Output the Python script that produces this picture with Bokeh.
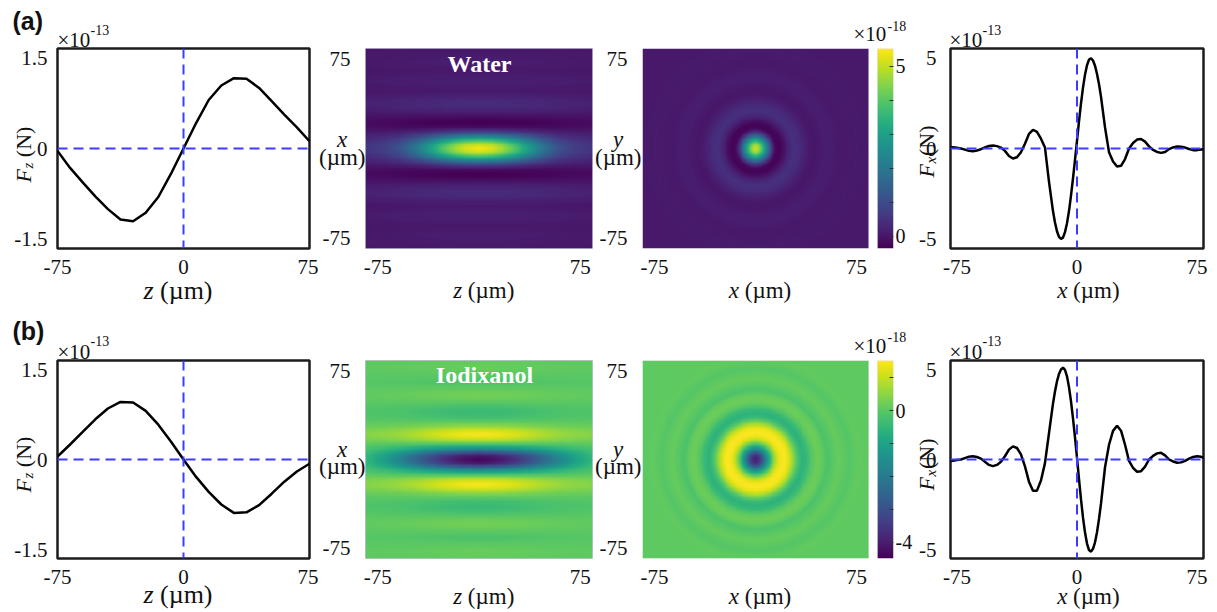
import numpy as np
from bokeh.plotting import figure
from bokeh.models import (Range1d, FixedTicker, LinearColorMapper, Label, Span,
                          LinearAxis, BoxAnnotation)
from bokeh.layouts import row, column
from bokeh.embed import file_html
from bokeh.resources import INLINE
from bokeh.palettes import Viridis256

# ======================= DATA =======================
z_line = [-75, -67.5, -60, -52.5, -45, -37.5, -30, -22.5, -15, -7.5, 0,
          7.5, 15, 22.5, 30, 37.5, 45, 52.5, 60, 67.5, 75]
fz_water = [-0.04, -0.32, -0.56, -0.79, -1.0, -1.17, -1.2, -1.06, -0.8, -0.42, 0.0,
            0.42, 0.8, 1.04, 1.16, 1.15, 1.0, 0.78, 0.56, 0.35, 0.12]
fz_iodixanol = [0.05, 0.25, 0.46, 0.67, 0.85, 0.96, 0.95, 0.81, 0.58, 0.3, 0.0,
                -0.29, -0.54, -0.75, -0.89, -0.88, -0.76, -0.57, -0.37, -0.2, -0.07]

x_line = [-80, -77.5, -75, -72.5, -70, -67.5, -65, -62.5, -60, -57.5, -55, -52.5, -50,
          -47.5, -45, -42.5, -40, -37.5, -35, -32.5, -30, -27.5, -25, -22.5, -20, -17.5, -15,
          -13.75, -12.5, -11.25, -10, -8.75, -7.5, -6.25, -5, -3.75, -2.5, -1.25, 0,
          1.25, 2.5, 3.75, 5, 6.25, 7.5, 8.75, 10, 11.25, 12.5, 13.75,
          15, 17.5, 20, 22.5, 25, 27.5, 30, 32.5, 35, 37.5, 40, 42.5, 45, 47.5, 50,
          52.5, 55, 57.5, 60, 62.5, 65, 67.5, 70, 72.5, 75, 77.5, 80]
fx_water = [0.07, 0.07, 0.04, 0.0, -0.06, -0.13, -0.15, -0.11, -0.04, 0.06, 0.14, 0.16, 0.13,
            0.05, -0.13, -0.41, -0.55, -0.48, -0.21, 0.26, 0.8, 1.03, 0.91, 0.54, 0.05, -1.82, -3.44,
            -4.07, -4.55, -4.86, -4.97, -4.9, -4.6, -4.11, -3.44, -2.59, -1.65, -0.63, 0.42,
            1.49, 2.48, 3.35, 4.06, 4.58, 4.89, 4.96, 4.84, 4.55, 4.1, 3.53,
            2.84, 1.16, -0.21, -0.71, -0.99, -0.95, -0.58, 0.0, 0.3, 0.49, 0.52, 0.38, 0.12, -0.08, -0.19,
            -0.24, -0.19, -0.03, 0.06, 0.11, 0.1, 0.05, -0.03, -0.09, -0.09, -0.05, -0.03]
fx_iodixanol = [-0.09, -0.07, -0.03, 0.0, 0.08, 0.16, 0.18, 0.14, 0.05, -0.13, -0.3, -0.37, -0.3,
                -0.13, 0.18, 0.55, 0.73, 0.64, 0.28, -0.38, -1.23, -1.73, -1.73, -1.17, -0.2, 1.46, 3.1,
                3.78, 4.34, 4.75, 5.0, 5.1, 4.98, 4.62, 4.02, 3.23, 2.28, 1.23, 0.09,
                -1.09, -2.22, -3.23, -4.06, -4.67, -5.03, -5.12, -4.96, -4.6, -4.04, -3.3,
                -2.44, -0.43, 0.82, 1.59, 1.88, 1.6, 0.82, -0.08, -0.46, -0.68, -0.65, -0.4, 0.0, 0.2, 0.34,
                0.37, 0.23, 0.0, -0.11, -0.18, -0.16, -0.08, 0.05, 0.14, 0.18, 0.15, 0.06]

wxz_x = [0, 3, 6, 9, 12, 15, 18, 21, 24, 28, 32, 36, 40, 44, 48, 52, 56, 60, 66, 72, 84]
wxz_core = [5.5, 5.1, 4.1, 2.8, 1.5, 0.6, 0.15, 0, 0, 0, 0, 0, 0, 0, 0, 0, 0, 0, 0, 0, 0]
wxz_ring = [0, 0, 0, 0, 0, -0.15, -0.3, -0.35, -0.3, -0.05, 0.22, 0.36, 0.34, 0.17, 0.05,
            0.08, 0.15, 0.12, 0.03, 0.1, 0.05]
wxz_z = [0, 10, 20, 30, 40, 50, 60, 70, 84]
wxz_core_env = [1.0, 0.96, 0.84, 0.67, 0.48, 0.32, 0.2, 0.14, 0.1]
wxz_ring_env = [1.0, 0.99, 0.97, 0.93, 0.88, 0.8, 0.7, 0.6, 0.5]

ixz_x = [0, 3, 6, 9, 12, 15, 18, 21, 24, 28, 32, 36, 40, 44, 48, 52, 56, 60, 66, 72, 78, 84]
ixz_core = [-4.45, -4.1, -3.0, -1.6, -0.6, -0.1, 0, 0, 0, 0, 0, 0, 0, 0, 0, 0, 0, 0, 0, 0, 0, 0]
ixz_ring = [0, 0, 0, 0, 0.1, 0.5, 1.2, 1.45, 1.3, 0.6, 0.05, -0.3, -0.42, -0.3, -0.05,
            0.2, 0.25, 0.08, -0.18, 0.0, 0.15, 0.08]
ixz_z = [0, 10, 20, 30, 40, 50, 60, 70, 84]
ixz_core_env = [1.0, 0.97, 0.9, 0.8, 0.67, 0.53, 0.39, 0.26, 0.12]
ixz_ring_env = [1.0, 0.97, 0.9, 0.79, 0.66, 0.53, 0.43, 0.36, 0.3]

wxy_r = [0, 3, 6, 9, 12, 15, 18, 21, 24, 28, 32, 36, 40, 44, 48, 55, 60, 64, 70, 75, 84, 130]
wxy_v = [5.2, 4.6, 3.3, 1.9, 0.6, -0.25, -0.3, -0.1, 0.2, 0.45, 0.4, 0.22, 0.06, 0.0, 0.06,
         0.12, 0.07, 0.03, 0.06, 0.08, 0.05, 0.05]
ixy_r = [0, 2, 4, 6, 8, 10, 12, 14, 16, 18, 21, 24, 27, 30, 33, 35, 38, 42, 46, 50, 53, 57,
         62, 66, 70, 76, 84, 130]
ixy_v = [-4.0, -3.8, -3.3, -2.5, -1.6, -0.8, -0.1, 0.55, 1.1, 1.4, 1.5, 1.35, 0.8, 0.05, -0.45,
         -0.6, -0.45, 0.0, 0.2, 0.07, -0.15, -0.03, 0.12, 0.03, -0.06, 0.07, 0.03, 0.03]

cb_water = [-0.36, 5.53]
cb_water_major = [0, 5]
cb_water_minor = [1, 2, 3, 4]
cb_iodix = [-4.49, 1.53]
cb_iodix_major = [-4, 0]
cb_iodix_minor = [-3, -2, -1, 1]

fz_ticks = [-1.5, 0, 1.5]
fx_ticks = [-5, 0, 5]
pos_ticks = [-75, 0, 75]
map_ticks = [-75, 75]
fz_range = [-1.65, 1.65]
fx_range = [-5.5, 5.5]
z_range = [-75, 75]
xfx_range = [-79, 79]
map_range = [-84, 84]

# ======================= STYLE / LAYOUT =======================
SERIF = "Liberation Serif"
SANS = "Liberation Sans"
BLUE = "#3c3cff"
INK = "#111111"
MAP_EDGE = "#c4c4d4"
TICK_PX = "21px"
PAGE_W, PAGE_H = 1217, 612

ROW_Y0 = [0, 312]
ROW_H = [312, 300]
LINE_TOP = [48, 48]
LINE_H = [200, 198]
MAP_TOP = [45, 45]
MAP_H = 204
MAP_W = 227
CB_GAP = 9
CB_W = 16
MAP_ASPECT = MAP_H / MAP_W
COL_X0 = {1: 0, 2: 318, 3: 596, 4: 915}
COL = {1: dict(width=318, left=57, right=9),
       2: dict(width=278, left=47, right=4),
       3: dict(width=319, left=45, right=22),
       4: dict(width=302, left=35, right=14)}

# text overlay: one transparent figure laid over the whole page (page-pixel coordinates)
overlay = figure(width=PAGE_W, height=PAGE_H, x_range=Range1d(0, PAGE_W),
                 y_range=Range1d(PAGE_H, 0), output_backend="svg", toolbar_location=None,
                 x_axis_location=None, y_axis_location=None,
                 min_border=0, min_border_left=0, min_border_right=0,
                 min_border_top=0, min_border_bottom=0)
overlay.xgrid.visible = False
overlay.ygrid.visible = False
overlay.outline_line_color = None
overlay.background_fill_color = None
overlay.border_fill_color = None
overlay.margin = (-PAGE_H, 0, 0, 0)


class Geo:
    """Frame origin of a panel on the page."""
    def __init__(self, col, r, top):
        self.x0 = COL_X0[col] + COL[col]["left"]
        self.y0 = ROW_Y0[r] + top


def put(g, dx, dy, text, size, style="normal", align="left", baseline="middle",
        angle=0.0, font=SERIF, color=INK):
    # dx, dy: pixels from the panel frame's top-left corner
    overlay.add_layout(Label(x=g.x0 + dx, y=g.y0 + dy, text=text, text_font=font,
                             text_font_size=f"{size}px", text_font_style=style,
                             text_align=align, text_baseline=baseline, angle=angle,
                             text_color=color))


def make_fig(col, r, top, fh, xr, yr):
    c = COL[col]
    h = ROW_H[r]
    p = figure(width=c["width"], height=h, x_range=Range1d(*xr), y_range=Range1d(*yr),
               output_backend="svg", toolbar_location=None,
               min_border_left=c["left"], min_border_right=c["right"],
               min_border_top=top, min_border_bottom=h - top - fh)
    p.xgrid.visible = False
    p.ygrid.visible = False
    p.background_fill_color = "white"
    p.border_fill_color = "white"
    for ax in (p.xaxis[0], p.yaxis[0]):
        ax.axis_line_color = None
        ax.major_tick_line_color = None
        ax.minor_tick_line_color = None
        ax.major_label_text_font = SERIF
        ax.major_label_text_font_size = TICK_PX
        ax.major_label_text_color = INK
    p.xaxis[0].major_label_standoff = 5
    return p, Geo(col, r, top)


def set_ticks(ax, vals):
    ax.ticker = FixedTicker(ticks=vals)
    ax.major_label_overrides = {v: f"{v:g}" for v in vals}


def line_common(p, xs, ys):
    p.outline_line_color = "#1c1c1c"
    p.outline_line_width = 2.5
    p.line(xs, ys, line_color="black", line_width=2.5)
    for dim in ("width", "height"):
        p.add_layout(Span(location=0, dimension=dim, line_color=BLUE, line_width=2,
                          line_dash="10 6"))


def fz_panel(r, ys, tag):
    p, g = make_fig(1, r, LINE_TOP[r], LINE_H[r], z_range, fz_range)
    set_ticks(p.xaxis[0], pos_ticks)
    set_ticks(p.yaxis[0], fz_ticks)
    p.yaxis[0].major_label_standoff = 4
    line_common(p, z_line, ys)
    put(g, -45, [-28, -30][r], tag, 25, style="bold", font=SANS)
    put(g, 0, -9, "\u00d710", 21)
    put(g, 33, [-19, -20][r], "-13", 14)
    d = [0, -2][r]
    put(g, -34, 134 + d, "F", 22, style="italic", baseline="alphabetic", angle=np.pi / 2)
    put(g, -30, 120 + d, "z", 15, style="italic", baseline="alphabetic", angle=np.pi / 2)
    put(g, -34, 108.7 + d, "(N)", 22, baseline="alphabetic", angle=np.pi / 2)
    yl = [242, 234][r]
    put(g, 86, yl, "z", 26, style="italic")
    put(g, 102.5, yl, "(\u00b5m)", 26)
    return p


def fx_panel(r, ys):
    p, g = make_fig(4, r, LINE_TOP[r], LINE_H[r], xfx_range, fx_range)
    set_ticks(p.xaxis[0], pos_ticks)
    set_ticks(p.yaxis[0], fx_ticks)
    p.yaxis[0].major_label_standoff = 8
    line_common(p, x_line, ys)
    put(g, -1, -9, "\u00d710", 21)
    put(g, 32, [-19, -20][r], "-13", 14)
    d = [0, 1][r]
    put(g, -24, 129 + d, "F", 22, style="italic", baseline="alphabetic", angle=np.pi / 2)
    put(g, -20, 115 + d, "x", 15, style="italic", baseline="alphabetic", angle=np.pi / 2)
    put(g, -24, 107.5 + d, "(N)", 22, baseline="alphabetic", angle=np.pi / 2)
    yl = [242, 236][r]
    put(g, 106.7, yl, "x", 23, style="italic")
    put(g, 122.6, yl, "(\u00b5m)", 23)
    return p


def xz_image(xt, core, ring, zt, core_env, ring_env, n=241):
    c = np.linspace(map_range[0], map_range[1], n)
    Z, X = np.meshgrid(c, c)
    ax_, az = np.abs(X), np.abs(Z)
    return (np.interp(ax_, xt, core) * np.interp(az, zt, core_env) +
            np.interp(ax_, xt, ring) * np.interp(az, zt, ring_env))


def xy_image(rr, vv, n=241):
    c = np.linspace(map_range[0], map_range[1], n)
    X, Y = np.meshgrid(c, c)
    return np.interp(np.hypot(X, Y * MAP_ASPECT), rr, vv)


def map_labels(g, r, ylab, xlab, xdx):
    yy = [(93.7, 111.7), (91.7, 109.4)][r]
    put(g, -23.3, yy[0], ylab, 23, style="italic", align="center")
    put(g, -23.3, yy[1], "(\u00b5m)", 23, align="center")
    yl = [245, 239][r]
    put(g, xdx, yl, xlab, 23, style="italic")
    put(g, xdx + (10.2 if xlab == "x" else 8.9) + 5.75, yl, "(\u00b5m)", 23)


def map_axes(p):
    set_ticks(p.xaxis[0], map_ticks)
    set_ticks(p.yaxis[0], map_ticks)
    p.yaxis[0].major_label_standoff = 9


def xz_panel(r, img, cb, title, tdx, tdy):
    p, g = make_fig(2, r, MAP_TOP[r], MAP_H, map_range, map_range)
    map_axes(p)
    span = map_range[1] - map_range[0]
    mapper = LinearColorMapper(palette=Viridis256, low=cb[0], high=cb[1])
    p.image(image=[img], x=map_range[0], y=map_range[0], dw=span, dh=span, color_mapper=mapper)
    p.outline_line_color = MAP_EDGE
    p.outline_line_width = 1
    put(g, tdx, tdy, title, 24, style="bold", align="center", color="white")
    map_labels(g, r, "x", "z", 87.7)
    return p


def xy_panel(r, img, cb, major, minor):
    span = map_range[1] - map_range[0]
    unit = span / MAP_W
    xr = [map_range[0], map_range[0] + (MAP_W + CB_GAP + CB_W) * unit]
    p, g = make_fig(3, r, MAP_TOP[r], MAP_H, xr, map_range)
    map_axes(p)
    mapper = LinearColorMapper(palette=Viridis256, low=cb[0], high=cb[1])
    p.image(image=[img], x=map_range[0], y=map_range[0], dw=span, dh=span, color_mapper=mapper)
    p.outline_line_color = None
    p.add_layout(BoxAnnotation(left=map_range[0], right=map_range[1], bottom=map_range[0],
                               top=map_range[1], fill_color=None, line_color=MAP_EDGE,
                               line_width=1))
    p.extra_y_ranges = {"cb": Range1d(cb[0], cb[1])}
    cb_x0 = map_range[1] + CB_GAP * unit
    grad = np.linspace(cb[0], cb[1], 256).reshape(256, 1)
    p.image(image=[grad], x=cb_x0, y=cb[0], dw=xr[1] - cb_x0, dh=cb[1] - cb[0],
            color_mapper=mapper, y_range_name="cb")
    p.add_layout(BoxAnnotation(left=cb_x0, right=xr[1], bottom=cb[0], top=cb[1],
                               fill_color=None, line_color=MAP_EDGE, line_width=1,
                               y_range_name="cb"))
    ax = LinearAxis(y_range_name="cb", ticker=FixedTicker(ticks=major, minor_ticks=minor),
                    major_label_overrides={v: f"{v:g}" for v in major},
                    axis_line_color=None, major_tick_in=4, major_tick_out=0,
                    minor_tick_in=4, minor_tick_out=0, major_tick_line_color="#333333",
                    minor_tick_line_color="#333333", major_label_standoff=2,
                    major_label_text_font=SERIF, major_label_text_font_size="20px",
                    major_label_text_color=INK)
    p.add_layout(ax, "right")
    put(g, 212, -12, "\u00d710", 21)
    put(g, 246, [-20, -21][r], "-18", 14)
    map_labels(g, r, "y", "x", 87.3)
    return p


img_wxz = xz_image(wxz_x, wxz_core, wxz_ring, wxz_z, wxz_core_env, wxz_ring_env)
img_ixz = xz_image(ixz_x, ixz_core, ixz_ring, ixz_z, ixz_core_env, ixz_ring_env)
img_wxy = xy_image(wxy_r, wxy_v)
img_ixy = xy_image(ixy_r, ixy_v)

row_a = row(fz_panel(0, fz_water, "(a)"),
            xz_panel(0, img_wxz, cb_water, "Water", 114, 18),
            xy_panel(0, img_wxy, cb_water, cb_water_major, cb_water_minor),
            fx_panel(0, fx_water))
row_b = row(fz_panel(1, fz_iodixanol, "(b)"),
            xz_panel(1, img_ixz, cb_iodix, "Iodixanol", 119, 17),
            xy_panel(1, img_ixy, cb_iodix, cb_iodix_major, cb_iodix_minor),
            fx_panel(1, fx_iodixanol))
layout = column(row_a, row_b, overlay)

open("out.html", "w").write(file_html(layout, INLINE, title="forces"))
